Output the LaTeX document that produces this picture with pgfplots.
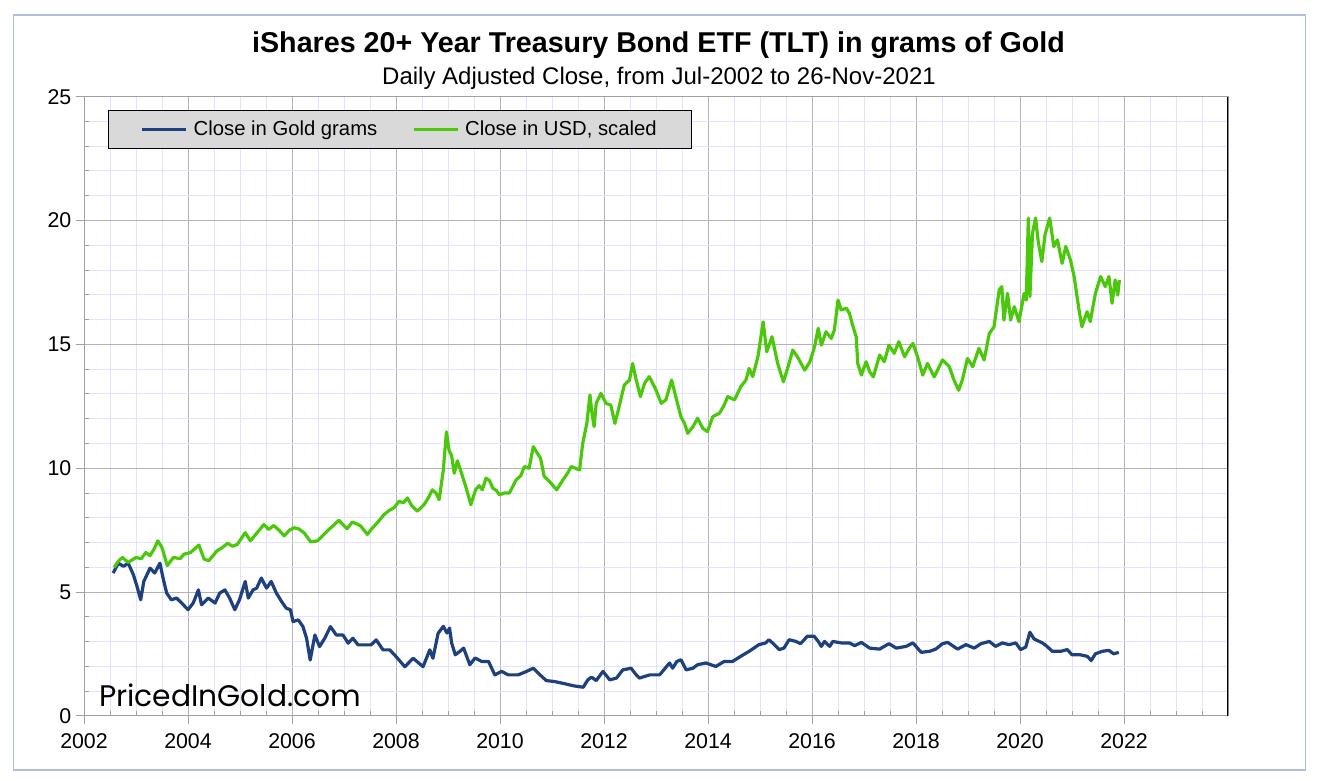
\documentclass[border=0pt]{standalone}
\usepackage{fontspec}
\setmainfont{Liberation Sans}
\newfontfamily\wmfont{Poppins}
\usepackage{graphicx}
\usepackage{pgfplots}
\pgfplotsset{compat=1.18}
\definecolor{goldblue}{RGB}{30,64,125}
\definecolor{usdgreen}{RGB}{76,200,12}
\definecolor{majgrid}{RGB}{179,179,179}
\definecolor{mingrid}{RGB}{227,227,255}
\definecolor{axcol}{RGB}{160,160,160}
\definecolor{legfill}{RGB}{217,217,217}
\definecolor{framecol}{RGB}{175,190,218}

\begin{document}
\begin{tikzpicture}[x=0.75pt,y=0.75pt]
\path[use as bounding box] (0,0) rectangle (1321,781);
\draw[framecol, line width=0.9pt] (13.5,11) rectangle (1305.5,766);
\node[anchor=base, inner sep=0, font=\fontsize{21.5}{25}\selectfont\bfseries] at (658.5,728) {iShares 20+ Year Treasury Bond ETF (TLT) in grams of Gold};
\node[anchor=base, inner sep=0, font=\fontsize{18}{21}\selectfont] at (659,696) {Daily Adjusted Close, from Jul-2002 to 26-Nov-2021};
\begin{axis}[
  at={(63pt,48.75pt)}, anchor=south west, scale only axis,
  width=858pt, height=464.5pt,
  xmin=2002, xmax=2024, ymin=0, ymax=25,
  xtick={2002,2004,2006,2008,2010,2012,2014,2016,2018,2020,2022},
  minor xtick={2002.5,2003,2003.5,2004.5,2005,2005.5,2006.5,2007,2007.5,2008.5,2009,2009.5,
    2010.5,2011,2011.5,2012.5,2013,2013.5,2014.5,2015,2015.5,2016.5,2017,2017.5,
    2018.5,2019,2019.5,2020.5,2021,2021.5,2022.5,2023,2023.5},
  ytick={0,5,...,25},
  minor ytick={1,2,3,4,6,7,8,9,11,12,13,14,16,17,18,19,21,22,23,24},
  grid=both,
  major grid style={majgrid, line width=0.75pt},
  minor grid style={mingrid, line width=0.75pt},
  axis line style={axcol, line width=0.75pt},
  tick align=outside,
  major tick length=6pt, minor tick length=0pt,
  tick style={axcol, line width=0.75pt},
  xtick pos=lower, ytick pos=left,
  extra x ticks={2002.5,2003,2003.5,2004.5,2005,2005.5,2006.5,2007,2007.5,2008.5,2009,2009.5,
    2010.5,2011,2011.5,2012.5,2013,2013.5,2014.5,2015,2015.5,2016.5,2017,2017.5,
    2018.5,2019,2019.5,2020.5,2021,2021.5,2022.5,2023,2023.5},
  extra x tick labels={},
  extra x tick style={grid=none, tick align=inside, major tick length=3.75pt},
  extra y ticks={1,2,3,4,6,7,8,9,11,12,13,14,16,17,18,19,21,22,23,24},
  extra y tick labels={},
  extra y tick style={grid=none, tick align=inside, major tick length=3.75pt},
  ticklabel style={font=\fontsize{16}{19}\selectfont},
  /pgf/number format/assume math mode=true,
  xticklabel style={/pgf/number format/1000 sep={}, yshift=-3.75pt},
  legend style={at={(0.021,0.9785)}, anchor=north west, draw=black, line width=0.75pt,
    fill=legfill, font=\fontsize{15.2}{18}\selectfont,
    inner xsep=24pt, inner ysep=6pt,
    /tikz/every even column/.append style={column sep=24pt}},
  legend columns=2,
  legend image code/.code={\draw[#1] (0pt,0pt) -- (33pt,0pt); \path (35.5pt,0pt);},
]
\addplot[goldblue, line width=2.4pt, line join=round] coordinates {
(2002.56,5.77) (2002.66,6.17) (2002.76,6.04) (2002.85,6.17) (2002.95,5.7)
(2003.02,5.23) (2003.09,4.69) (2003.15,5.43) (2003.27,5.97) (2003.36,5.77)
(2003.46,6.17) (2003.52,5.57) (2003.59,4.96) (2003.68,4.69) (2003.78,4.76)
(2003.91,4.49) (2004.0,4.29) (2004.1,4.56) (2004.2,5.09) (2004.26,4.49)
(2004.39,4.76) (2004.52,4.56) (2004.61,4.96) (2004.71,5.09) (2004.8,4.76)
(2004.9,4.29) (2004.99,4.69) (2005.1,5.43) (2005.16,4.76) (2005.25,5.09)
(2005.32,5.16) (2005.41,5.57) (2005.51,5.16) (2005.6,5.43) (2005.7,4.96)
(2005.8,4.62) (2005.89,4.35) (2005.97,4.29) (2006.02,3.81) (2006.12,3.88)
(2006.21,3.61) (2006.28,3.14) (2006.35,2.26) (2006.44,3.27) (2006.53,2.8)
(2006.63,3.14) (2006.74,3.61) (2006.85,3.27) (2006.98,3.27) (2007.08,2.94)
(2007.17,3.14) (2007.27,2.87) (2007.4,2.87) (2007.52,2.87) (2007.62,3.07)
(2007.75,2.67) (2007.88,2.67) (2008.0,2.4) (2008.17,1.99) (2008.33,2.33)
(2008.52,1.99) (2008.65,2.67) (2008.71,2.33) (2008.81,3.34) (2008.91,3.62)
(2008.98,3.35) (2009.03,3.55) (2009.07,2.95) (2009.14,2.47) (2009.23,2.61)
(2009.3,2.74) (2009.42,2.07) (2009.52,2.34) (2009.65,2.2) (2009.78,2.2)
(2009.9,1.66) (2010.03,1.8) (2010.16,1.66) (2010.35,1.66) (2010.51,1.8)
(2010.64,1.93) (2010.77,1.66) (2010.89,1.43) (2011.05,1.39) (2011.25,1.3)
(2011.41,1.22) (2011.6,1.16) (2011.69,1.46) (2011.76,1.57) (2011.85,1.43)
(2011.98,1.8) (2012.11,1.46) (2012.24,1.53) (2012.36,1.86) (2012.52,1.93)
(2012.62,1.66) (2012.68,1.53) (2012.88,1.66) (2013.07,1.66) (2013.26,2.14)
(2013.32,1.93) (2013.4,2.2) (2013.48,2.27) (2013.58,1.86) (2013.71,1.93)
(2013.8,2.07) (2013.96,2.14) (2014.15,2.0) (2014.31,2.2) (2014.47,2.2)
(2014.63,2.41) (2014.79,2.61) (2014.98,2.88) (2015.11,2.95) (2015.17,3.08)
(2015.24,2.95) (2015.37,2.68) (2015.46,2.74) (2015.56,3.08) (2015.69,3.01)
(2015.78,2.92) (2015.91,3.22) (2016.04,3.22) (2016.12,3.01) (2016.18,2.81)
(2016.24,3.01) (2016.34,2.81) (2016.4,3.01) (2016.56,2.95) (2016.72,2.95)
(2016.82,2.84) (2016.95,2.97) (2017.11,2.74) (2017.3,2.7) (2017.48,2.92)
(2017.62,2.74) (2017.81,2.81) (2017.94,2.95) (2018.1,2.57) (2018.26,2.61)
(2018.38,2.7) (2018.51,2.92) (2018.61,2.97) (2018.8,2.7) (2018.96,2.88)
(2019.12,2.74) (2019.25,2.92) (2019.41,3.01) (2019.53,2.81) (2019.66,2.95)
(2019.79,2.88) (2019.92,2.95) (2020.01,2.68) (2020.11,2.78) (2020.19,3.38)
(2020.27,3.11) (2020.43,2.95) (2020.52,2.81) (2020.62,2.61) (2020.78,2.61)
(2020.91,2.68) (2021.0,2.47) (2021.16,2.47) (2021.29,2.41) (2021.37,2.24)
(2021.45,2.51) (2021.58,2.61) (2021.71,2.65) (2021.8,2.51) (2021.9,2.57)
};
\addlegendentry{Close in Gold grams}
\addplot[usdgreen, line width=2.4pt, line join=round] coordinates {
(2002.58,6.0) (2002.66,6.25) (2002.74,6.4) (2002.85,6.2) (2003.0,6.4)
(2003.1,6.35) (2003.19,6.6) (2003.27,6.47) (2003.35,6.75) (2003.42,7.07)
(2003.5,6.8) (2003.6,6.07) (2003.72,6.4) (2003.85,6.35) (2003.92,6.53)
(2004.05,6.6) (2004.21,6.9) (2004.31,6.33) (2004.4,6.27) (2004.56,6.67)
(2004.66,6.8) (2004.76,6.97) (2004.86,6.85) (2004.95,6.93) (2005.1,7.4)
(2005.2,7.07) (2005.33,7.4) (2005.46,7.73) (2005.55,7.53) (2005.65,7.69)
(2005.75,7.5) (2005.85,7.27) (2005.95,7.5) (2006.04,7.6) (2006.13,7.55)
(2006.23,7.4) (2006.36,7.03) (2006.49,7.07) (2006.6,7.3) (2006.71,7.53)
(2006.8,7.7) (2006.9,7.9) (2007.06,7.56) (2007.16,7.83) (2007.25,7.75)
(2007.32,7.67) (2007.45,7.33) (2007.55,7.6) (2007.64,7.8) (2007.77,8.13)
(2007.87,8.3) (2007.96,8.4) (2008.06,8.67) (2008.14,8.6) (2008.22,8.8)
(2008.3,8.5) (2008.41,8.27) (2008.54,8.53) (2008.62,8.8) (2008.7,9.13)
(2008.77,9.0) (2008.83,8.73) (2008.91,9.93) (2008.97,11.47) (2009.02,10.73)
(2009.07,10.5) (2009.12,9.8) (2009.18,10.3) (2009.24,9.93) (2009.34,9.27)
(2009.44,8.53) (2009.53,9.13) (2009.6,9.3) (2009.66,9.13) (2009.73,9.6)
(2009.8,9.5) (2009.86,9.2) (2009.93,9.1) (2009.99,8.93) (2010.08,9.0)
(2010.18,9.0) (2010.31,9.53) (2010.4,9.7) (2010.47,10.07) (2010.56,10.0)
(2010.64,10.87) (2010.72,10.6) (2010.78,10.4) (2010.85,9.67) (2010.98,9.4)
(2011.09,9.13) (2011.21,9.53) (2011.3,9.8) (2011.37,10.07) (2011.45,10.0)
(2011.53,9.93) (2011.59,11.0) (2011.67,11.81) (2011.73,12.96) (2011.77,12.2)
(2011.81,11.68) (2011.85,12.62) (2011.94,13.02) (2012.04,12.62) (2012.13,12.55)
(2012.21,11.81) (2012.29,12.48) (2012.39,13.36) (2012.49,13.56) (2012.55,14.23)
(2012.62,13.56) (2012.7,12.89) (2012.78,13.43) (2012.87,13.7) (2013.0,13.16)
(2013.1,12.62) (2013.19,12.76) (2013.3,13.56) (2013.38,12.89) (2013.48,12.08)
(2013.55,11.8) (2013.61,11.41) (2013.71,11.68) (2013.8,12.02) (2013.9,11.61)
(2013.99,11.48) (2014.09,12.08) (2014.22,12.22) (2014.3,12.5) (2014.38,12.89)
(2014.51,12.76) (2014.63,13.29) (2014.73,13.56) (2014.79,14.03) (2014.86,13.7)
(2014.96,14.5) (2015.06,15.91) (2015.13,14.7) (2015.23,15.31) (2015.34,14.23)
(2015.45,13.49) (2015.53,14.03) (2015.63,14.77) (2015.72,14.5) (2015.79,14.23)
(2015.86,13.96) (2015.96,14.3) (2016.05,14.91) (2016.12,15.65) (2016.18,14.97)
(2016.27,15.51) (2016.37,15.24) (2016.43,15.58) (2016.5,16.79) (2016.56,16.39)
(2016.66,16.46) (2016.72,16.25) (2016.79,15.71) (2016.85,15.31) (2016.88,14.23)
(2016.95,13.76) (2017.04,14.3) (2017.11,13.89) (2017.18,13.69) (2017.3,14.57)
(2017.39,14.3) (2017.48,14.97) (2017.58,14.64) (2017.67,15.11) (2017.78,14.5)
(2017.87,14.84) (2017.94,15.04) (2018.03,14.5) (2018.13,13.76) (2018.22,14.23)
(2018.35,13.69) (2018.51,14.37) (2018.64,14.1) (2018.73,13.56) (2018.82,13.15)
(2018.89,13.56) (2018.99,14.43) (2019.09,14.1) (2019.21,14.84) (2019.31,14.37)
(2019.41,15.44) (2019.5,15.71) (2019.6,17.2) (2019.65,17.33) (2019.69,15.98)
(2019.76,17.06) (2019.82,15.98) (2019.89,16.52) (2019.98,15.92) (2020.08,17.06)
(2020.12,16.79) (2020.16,20.1) (2020.19,16.93) (2020.24,19.49) (2020.3,20.1)
(2020.35,19.15) (2020.42,18.34) (2020.48,19.42) (2020.57,20.1) (2020.65,18.95)
(2020.72,19.22) (2020.81,18.27) (2020.88,18.95) (2020.97,18.41) (2021.04,17.74)
(2021.13,16.46) (2021.19,15.71) (2021.29,16.32) (2021.35,15.92) (2021.45,17.06)
(2021.55,17.74) (2021.64,17.33) (2021.71,17.74) (2021.77,16.66) (2021.83,17.6)
(2021.88,16.99) (2021.91,17.6)
};
\addlegendentry{Close in USD, scaled}
\draw[black, line width=0.9pt] (rel axis cs:1,0) -- (rel axis cs:1,1);
\end{axis}
\node[anchor=base west, inner sep=0] at (99,74) {\resizebox{196.5pt}{!}{\wmfont PricedInGold.com}};
\end{tikzpicture}
\end{document}
